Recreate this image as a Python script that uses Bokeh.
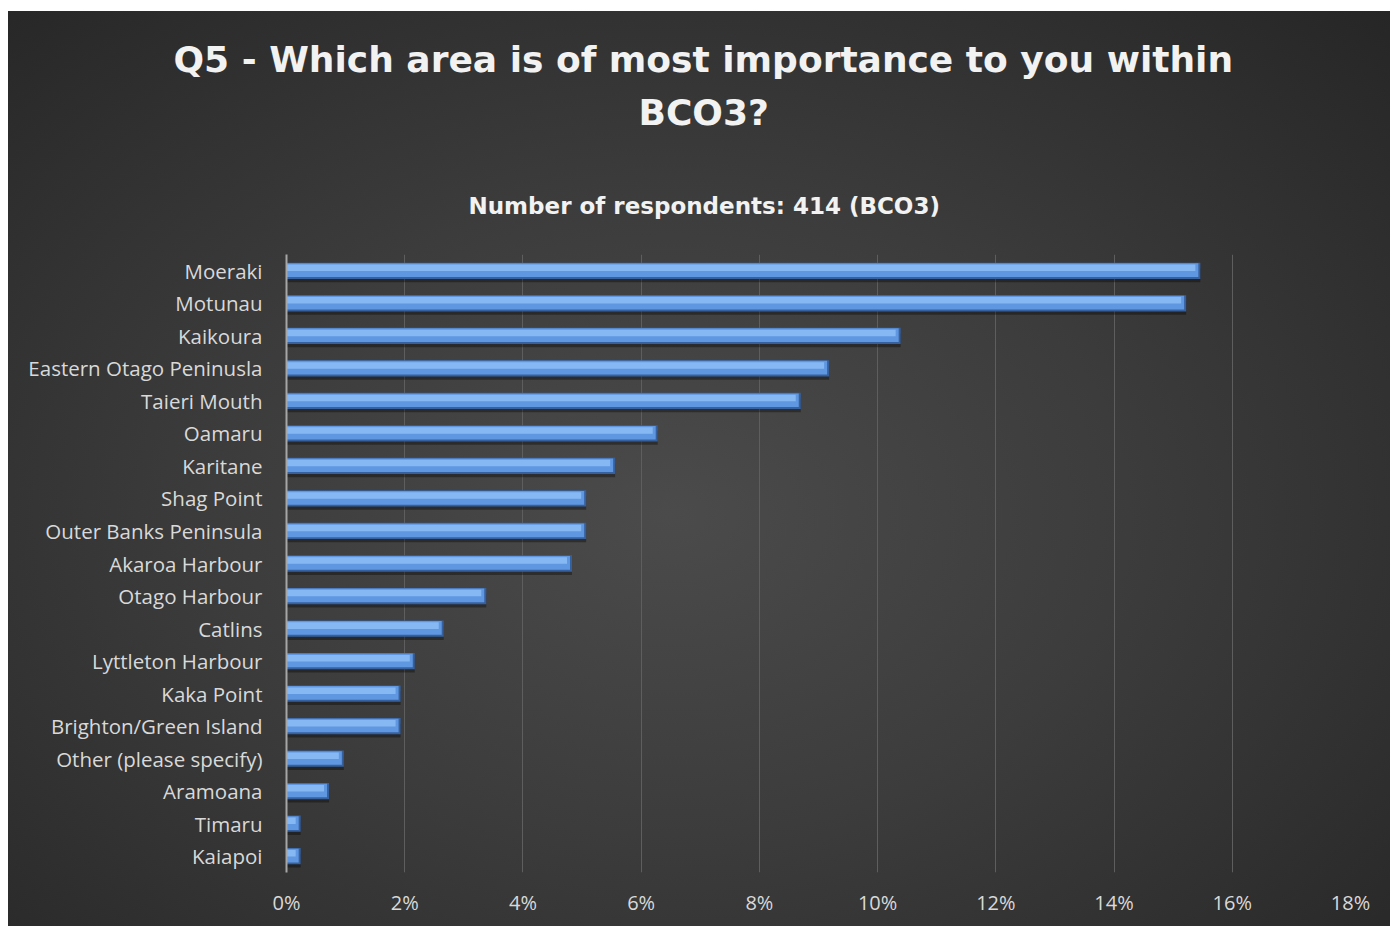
from bokeh.plotting import figure
from bokeh.models import FactorRange, Title, NumeralTickFormatter, FixedTicker
from bokeh.transform import dodge
from bokeh.embed import file_html
from bokeh.resources import INLINE

title_line1 = "Q5 - Which area is of most importance to you within"
title_line2 = "BCO3?"
subtitle = "Number of respondents: 414 (BCO3)"

categories = ["Moeraki", "Motunau", "Kaikoura", "Eastern Otago Peninusla", "Taieri Mouth",
              "Oamaru", "Karitane", "Shag Point", "Outer Banks Peninsula", "Akaroa Harbour",
              "Otago Harbour", "Catlins", "Lyttleton Harbour", "Kaka Point",
              "Brighton/Green Island", "Other (please specify)", "Aramoana", "Timaru", "Kaiapoi"]
percent = [15.46, 15.22, 10.39, 9.18, 8.70, 6.28, 5.56, 5.07, 5.07, 4.83,
           3.38, 2.66, 2.17, 1.93, 1.93, 0.97, 0.72, 0.24, 0.24]
x_ticks = [0, 0.02, 0.04, 0.06, 0.08, 0.10, 0.12, 0.14, 0.16, 0.18]

values = [v / 100 for v in percent]
px = 0.02 / 118.2  # one pixel in data units (x)
inner_right = [max(v - 2 * px, 0) for v in values]
hi_right = [max(v - 5 * px, 0) for v in values]

source = dict(cat=categories, val=values, inner=inner_right, hi=hi_right)

p = figure(width=1382, height=915, output_backend="svg", toolbar_location=None,
           y_range=FactorRange(factors=list(reversed(categories))),
           x_range=(0, 0.18),
           min_border_left=278, min_border_right=40, min_border_top=243, min_border_bottom=54)

p.styles = {"background": "radial-gradient(ellipse at 48% 55%, #4b4b4b 0%, #3c3c3c 45%, #262626 100%)",
            "margin-left": "8px", "margin-top": "11px"}
p.background_fill_alpha = 0
p.border_fill_alpha = 0
p.outline_line_color = None

# shadow
p.hbar(y=dodge("cat", -0.14, range=p.y_range), left=0, right="val", height=0.42,
       source=source, fill_color="black", fill_alpha=0.35, line_color=None)
# base (dark edge)
p.hbar(y="cat", left=0, right="val", height=0.5, source=source,
       fill_color="#36609e", line_color=None)
# body
p.hbar(y=dodge("cat", 0.02, range=p.y_range), left=0, right="inner", height=0.42, source=source,
       fill_color="#5f97e0", line_color=None)
# highlight
p.hbar(y=dodge("cat", 0.09, range=p.y_range), left=0, right="hi", height=0.2, source=source,
       fill_color="#86b8f3", line_color=None)

p.xaxis.ticker = FixedTicker(ticks=x_ticks)
p.xaxis.formatter = NumeralTickFormatter(format="0%")
p.xaxis.axis_line_color = None
p.xaxis.major_tick_line_color = None
p.xaxis.minor_tick_line_color = None
p.xaxis.major_label_text_font = "Open Sans"
p.xaxis.major_label_text_font_size = "20px"
p.xaxis.major_label_text_color = "#d9d9d9"
p.xaxis.major_label_standoff = 10

p.yaxis.axis_line_color = "#a6a6a6"
p.yaxis.axis_line_width = 2
p.yaxis.major_tick_line_color = None
p.yaxis.minor_tick_line_color = None
p.yaxis.major_label_text_font = "Open Sans"
p.yaxis.major_label_text_font_size = "20.5px"
p.yaxis.major_label_text_color = "#d9d9d9"
p.yaxis.major_label_standoff = 18

p.ygrid.grid_line_color = None
p.xgrid.ticker = FixedTicker(ticks=x_ticks)
p.xgrid.grid_line_color = "#5e5e5e"
p.xgrid.grid_line_width = 1

common = dict(align="left", text_font="DejaVu Sans", text_font_style="bold", text_color="#f2f2f2")
p.add_layout(Title(text=subtitle, text_font_size="23px", standoff=71, offset=468 - 286, **common), "above")
p.add_layout(Title(text=title_line2, text_font_size="36px", standoff=46, offset=638 - 286, **common), "above")
p.add_layout(Title(text=title_line1, text_font_size="36px", standoff=-26, offset=173 - 286, **common), "above")

open("out.html", "w").write(file_html(p, INLINE))
